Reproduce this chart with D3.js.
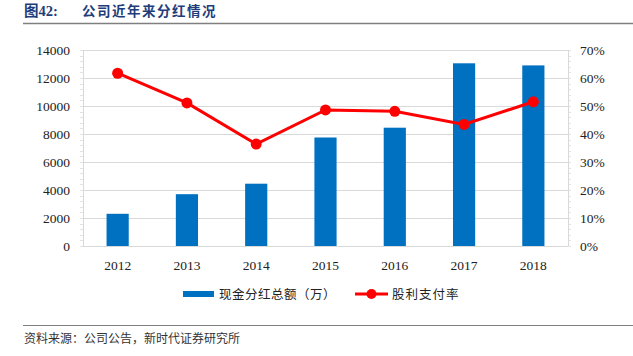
<!DOCTYPE html>
<html><head><meta charset="utf-8">
<script src="https://cdn.jsdelivr.net/npm/d3@7"></script>
<style>body{margin:0;background:#fff}svg{display:block}</style>
</head><body>
<svg id="c" width="633" height="356"></svg>
<script>
const years = ["2012","2013","2014","2015","2016","2017","2018"];
const dividends = [2300, 3700, 4450, 7750, 8450, 13050, 12900];
const payout = [0.617, 0.511, 0.364, 0.486, 0.481, 0.434, 0.515];
const leftTicks = [0,2000,4000,6000,8000,10000,12000,14000];
const rightTicks = [0,0.1,0.2,0.3,0.4,0.5,0.6,0.7];

const svg = d3.select("#c");
const L = 83, R = 568, T = 50, B = 246;
const x = d3.scaleBand().domain(years).range([L, R]).paddingInner(0.68).paddingOuter(0.34);
const yL = d3.scaleLinear().domain([0,14000]).range([B, T]);
const yR = d3.scaleLinear().domain([0,0.7]).range([B, T]);
const serif = "'Liberation Serif', serif";
const cjk = "'Noto Sans CJK SC', sans-serif";

// title
svg.append("text").attr("x",24).attr("y",16).style("font-family","'Liberation Serif','Noto Sans CJK SC',serif").attr("font-weight","bold")
  .attr("font-size",14.5).attr("fill","#1f3d7a").text("图42:");
svg.append("text").attr("x",82).attr("y",16).style("font-family",cjk).attr("font-weight","bold")
  .attr("font-size",13.5).attr("fill","#1f3d7a").attr("letter-spacing","1.5").text("公司近年来分红情况");
svg.append("line").attr("x1",23).attr("x2",633).attr("y1",23.5).attr("y2",23.5).attr("stroke","#7f7f7f").attr("stroke-width",1.5);

// gridlines
svg.append("g").selectAll("line").data(leftTicks).join("line")
  .attr("x1",L).attr("x2",R).attr("y1",d=>Math.round(yL(d))+0.5).attr("y2",d=>Math.round(yL(d))+0.5)
  .attr("stroke","#d9d9d9").attr("stroke-width",1);

// minor ticks
const minor = d3.range(0,14001,400);
svg.append("g").selectAll("line").data(minor).join("line")
  .attr("x1",L-3).attr("x2",L).attr("y1",d=>Math.round(yL(d))+0.5).attr("y2",d=>Math.round(yL(d))+0.5).attr("stroke","#e3e3e3");
svg.append("g").selectAll("line").data(minor).join("line")
  .attr("x1",R).attr("x2",R+3).attr("y1",d=>Math.round(yL(d))+0.5).attr("y2",d=>Math.round(yL(d))+0.5).attr("stroke","#e3e3e3");
svg.append("line").attr("x1",L+0.5).attr("x2",L+0.5).attr("y1",T).attr("y2",B).attr("stroke","#d9d9d9");
svg.append("line").attr("x1",R+0.5).attr("x2",R+0.5).attr("y1",T).attr("y2",B).attr("stroke","#d9d9d9");

// axes
const axL = d3.axisLeft(yL).tickValues(leftTicks).tickSize(0).tickPadding(13).tickFormat(d3.format("d"));
const gL = svg.append("g").attr("transform",`translate(${L},0)`).call(axL);
const axR = d3.axisRight(yR).tickValues(rightTicks).tickSize(0).tickPadding(12).tickFormat(d3.format(".0%"));
const gR = svg.append("g").attr("transform",`translate(${R},0)`).call(axR);
const axB = d3.axisBottom(x).tickSize(0).tickPadding(14);
const gB = svg.append("g").attr("transform",`translate(0,${B})`).call(axB);
[gL,gR,gB].forEach(g=>{
  g.select(".domain").remove();
  g.attr("font-family",null).attr("font-size",null);
  g.selectAll("text").style("font-family",serif).style("font-size","13.5px").attr("fill","#222");
});

// bars
svg.append("g").selectAll("rect").data(years).join("rect")
  .attr("x",d=>x(d)).attr("width",x.bandwidth())
  .attr("y",(d,i)=>yL(dividends[i])).attr("height",(d,i)=>B-yL(dividends[i]))
  .attr("fill","#0070c0");

// line
const cx = d=>x(d)+x.bandwidth()/2;
svg.append("path").datum(years)
  .attr("d",d3.line().x(cx).y((d,i)=>yR(payout[i])))
  .attr("fill","none").attr("stroke","#ff0000").attr("stroke-width",3);
svg.append("g").selectAll("circle").data(years).join("circle")
  .attr("cx",cx).attr("cy",(d,i)=>yR(payout[i])).attr("r",5.5).attr("fill","#ff0000");

// legend
svg.append("rect").attr("x",183).attr("y",291).attr("width",31).attr("height",6).attr("fill","#0070c0");
svg.append("text").attr("x",219).attr("y",299).style("font-family",cjk).attr("font-size",12.5).attr("fill","#222")
  .attr("letter-spacing","0.5").text("现金分红总额（万）");
svg.append("line").attr("x1",355).attr("x2",388).attr("y1",294).attr("y2",294).attr("stroke","#ff0000").attr("stroke-width",3);
svg.append("circle").attr("cx",371.5).attr("cy",294).attr("r",5).attr("fill","#ff0000");
svg.append("text").attr("x",392).attr("y",299).style("font-family",cjk).attr("font-size",12.5).attr("fill","#222")
  .attr("letter-spacing","1").text("股利支付率");

// footer
svg.append("line").attr("x1",23).attr("x2",633).attr("y1",325.5).attr("y2",325.5).attr("stroke","#7f7f7f").attr("stroke-width",1.2);
svg.append("text").attr("x",24).attr("y",343).style("font-family",cjk).attr("font-size",12).attr("fill","#333")
  .text("资料来源：公司公告，新时代证券研究所");
</script>
</body></html>
